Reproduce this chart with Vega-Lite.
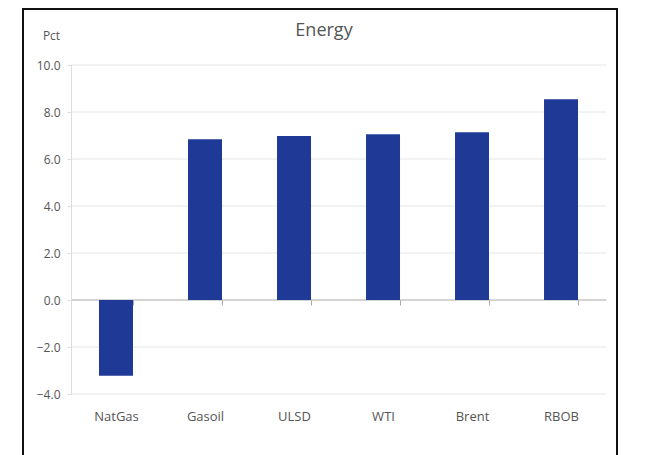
{
  "$schema": "https://vega.github.io/schema/vega-lite/v6.json",
  "width": 594,
  "height": 452,
  "autosize": "none",
  "padding": {"left": 23, "top": 9, "right": 42, "bottom": -6},
  "background": "white",
  "title": {"text": "Energy", "anchor": "middle", "frame": "group", "offset": -31, "dx": 4, "fontSize": 18, "font": "Open Sans", "fontWeight": "normal", "color": "#555555"},
  "datasets": {
    "bars": [
      {"commodity": "NatGas", "value": -3.22},
      {"commodity": "Gasoil", "value": 6.84},
      {"commodity": "ULSD", "value": 6.98},
      {"commodity": "WTI", "value": 7.05},
      {"commodity": "Brent", "value": 7.14},
      {"commodity": "RBOB", "value": 8.54}
    ],
    "grid": [
      {"g": -4, "kind": "grid"}, {"g": -2, "kind": "grid"}, {"g": 0, "kind": "zero"},
      {"g": 2, "kind": "grid"}, {"g": 4, "kind": "grid"}, {"g": 6, "kind": "grid"},
      {"g": 8, "kind": "grid"}, {"g": 10, "kind": "grid"}
    ]
  },
  "layer": [
    {
      "data": {"name": "grid"},
      "mark": {"type": "rule", "xOffset": -44.5, "x2Offset": 45.5, "strokeWidth": 1},
      "encoding": {
        "x": {"datum": "NatGas", "type": "nominal"},
        "x2": {"datum": "RBOB"},
        "y": {"field": "g", "type": "quantitative", "title": "Pct"},
        "color": {"field": "kind", "type": "nominal", "scale": {"domain": ["grid", "zero"], "range": ["#e6e6e6", "#a8a8a8"]}, "legend": null}
      }
    },
    {
      "data": {"name": "grid"},
      "mark": {"type": "rule", "xOffset": -44.5, "color": "#dddddd"},
      "encoding": {
        "x": {"datum": "NatGas", "type": "nominal"},
        "y": {"datum": 10, "type": "quantitative", "title": "Pct"},
        "y2": {"datum": -4}
      }
    },
    {
      "data": {"name": "bars"},
      "mark": {"type": "bar", "color": "#1f3a96"},
      "encoding": {
        "x": {"field": "commodity", "type": "nominal", "sort": null, "title": null,
              "scale": {"domain": ["NatGas", "Gasoil", "ULSD", "WTI", "Brent", "RBOB"], "paddingInner": 0.618, "paddingOuter": 0.646, "align": 0.661}},
        "y": {"field": "value", "type": "quantitative", "title": "Pct",
              "scale": {"domain": [-6.851, 12.383], "nice": false, "zero": false},
              "axis": {"values": [-4, -2, 0, 2, 4, 6, 8, 10]}}
      }
    }
  ],
  "config": {
    "view": {"stroke": "#111111", "strokeWidth": 2},
    "font": "Open Sans",
    "axisX": {
      "offset": -161, "tickBand": "extent", "domain": false, "grid": false,
      "tickSize": 5, "tickColor": "#a8a8a8", "labelPadding": 105, "labelAngle": 0,
      "labelFontSize": 13, "labelColor": "#555555", "labelFont": "Open Sans"
    },
    "axisY": {
      "offset": -49, "domain": false, "grid": false, "format": ".1f",
      "tickSize": 5, "tickColor": "#dddddd", "labelPadding": 7,
      "labelFontSize": 12, "labelColor": "#555555", "labelFont": "Open Sans",
      "titleAngle": 0, "titleX": -21, "titleY": 26, "titleAlign": "center", "titleBaseline": "middle",
      "titleFontSize": 12, "titleFontWeight": "normal", "titleColor": "#555555", "titleFont": "Open Sans"
    }
  }
}
